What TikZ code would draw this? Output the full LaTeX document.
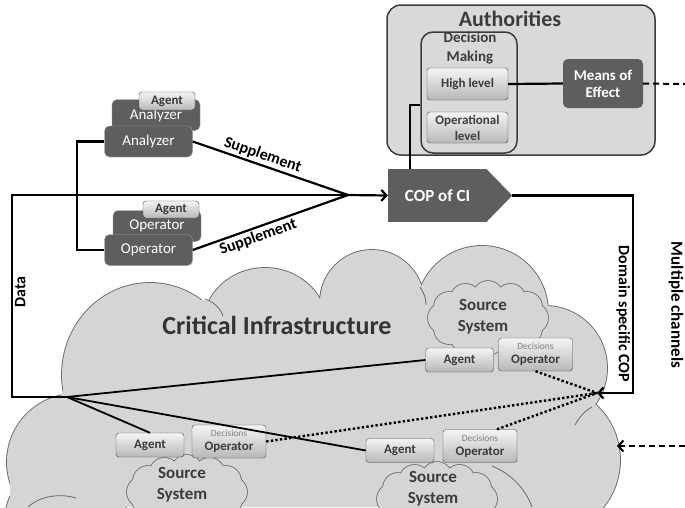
\documentclass[tikz,border=0pt]{standalone}
\usepackage{fontspec}
\setmainfont{Carlito}
\usetikzlibrary{arrows.meta}
\definecolor{boxgray}{RGB}{94,94,94}
\definecolor{panelgray}{RGB}{217,217,217}
\definecolor{cloudfill}{RGB}{213,213,213}
\definecolor{cloudline}{RGB}{105,105,105}
\definecolor{inkgray}{RGB}{60,60,60}
\tikzset{
	panel/.style    = {draw=inkgray, fill=panelgray, rounded corners=14pt, line width=1.5pt},
	stackbox/.style = {draw=gray!75, fill=boxgray, rounded corners=5pt, text=white, font=\fontsize{15}{17}\selectfont, minimum width=88pt, minimum height=31pt},
	darkbox/.style  = {fill=boxgray, rounded corners=5pt, text=white, font=\bfseries\fontsize{15}{17}\selectfont, align=center},
	button/.style   = {draw=gray!55!black, rounded corners=3pt, top color=white!96!black, bottom color=black!28, text=inkgray, font=\bfseries\fontsize{13}{15}\selectfont, align=center, inner sep=1pt},
	agentbtn/.style = {button, minimum width=68pt, minimum height=24pt},
	decbtn/.style   = {button, minimum width=74pt, minimum height=33pt, font=\bfseries\fontsize{13}{14}\selectfont},
	srctext/.style  = {text=inkgray, font=\bfseries\fontsize{17}{21}\selectfont, align=center},
	lbl/.style      = {font=\bfseries\fontsize{16}{18}\selectfont, inner sep=2pt},
	conn/.style     = {line width=2.2pt},
	fanline/.style  = {line width=1.8pt},
	dotline/.style  = {line width=2.4pt, dash pattern=on 2.4pt off 2.2pt},
	farline/.style  = {line width=2pt, dash pattern=on 6pt off 4pt},
	pics/srccloud/.style = {code = {
		\foreach \a in {0,30,...,330}
			\draw[cloudline, line width=1.6pt] ({45*cos(\a)},{22*sin(\a)}) circle[radius=15pt];
		\foreach \a in {0,30,...,330}
			\fill[cloudfill] ({45*cos(\a)},{22*sin(\a)}) circle[radius=15pt];
		\fill[cloudfill] (0,0) ellipse[x radius=48pt, y radius=26pt];
	}},
}

\begin{document}
\begin{tikzpicture}[x=1pt, y=-1pt, >={Straight Barb[length=5pt, width=11pt]}]
	\useasboundingbox (0,0) rectangle (685,507);
	\fill[white] (0,0) rectangle (685,507);

	% Critical infrastructure cloud with the source systems
	\begin{scope}
		\clip (0,0) rectangle (685,507);
		\foreach \cx/\cy/\rx/\ry in {75/462/68/68, 60/520/55/55, 150/375/88/92, 265/326/62/58, 372/302/52/52, 482/312/66/66, 545/368/62/62, 545/460/75/75}
			\draw[cloudline, line width=1.8pt] (\cx,\cy) ellipse[x radius=\rx pt, y radius=\ry pt];
		\foreach \cx/\cy/\rx/\ry in {75/462/68/68, 60/520/55/55, 150/375/88/92, 265/326/62/58, 372/302/52/52, 482/312/66/66, 545/368/62/62, 545/460/75/75}
			\fill[cloudfill] (\cx,\cy) ellipse[x radius=\rx pt, y radius=\ry pt];
		\fill[cloudfill] (80,340) -- (200,300) -- (320,305) -- (420,290) -- (545,300) -- (590,380)
			-- (600,507) -- (10,507) -- (10,470) -- (60,400) -- cycle;
		\draw[cloudline, line width=0.8pt] (205,299) .. controls (214,302) and (220,308) .. (223,316);
		\draw[cloudline, line width=0.8pt] (420,287) .. controls (424,293) and (426,298) .. (426,305);
		\draw[cloudline, line width=0.8pt] (575,425) .. controls (580,416) and (586,410) .. (592,407);
		\draw[cloudline, line width=0.8pt] (492,466) .. controls (512,474) and (526,490) .. (532,507);
		\draw[cloudline, line width=0.8pt] (28,507) .. controls (40,496) and (60,493) .. (76,498);
		\pic at (488,318) {srccloud};
		\pic at (187,492) {srccloud};
		\pic at (437,499) {srccloud};
	\end{scope}

	\node[text=black!80, font=\bfseries\fontsize{26}{28}\selectfont] (ci) at (277,325) {Critical Infrastructure};
	\node[srctext] (srcU) at (483,317) {Source\\System};
	\node[srctext] (srcL) at (182,485) {Source\\System};
	\node[srctext] (srcR) at (433,489) {Source\\System};

	% Authorities
	\node[panel, minimum width=268pt, minimum height=150pt] (auth) at (521,80) {};
	\node[text=inkgray, font=\bfseries\fontsize{22}{24}\selectfont] (authtitle) at (510,19) {Authorities};
	\node[panel, rounded corners=12pt, minimum width=96pt, minimum height=121pt] (dm) at (469,92.5) {};
	\node[text=inkgray, font=\bfseries\fontsize{15}{19}\selectfont, align=center] (dmtitle) at (470,48) {Decision\\Making};
	\node[button, minimum width=81pt, minimum height=32pt] (hl) at (467.5,84) {High level};
	\node[button, minimum width=81pt, minimum height=31pt, font=\bfseries\fontsize{13}{16}\selectfont] (ol) at (467.5,127.5) {Operational\\level};
	\node[darkbox, minimum width=80pt, minimum height=49pt] (moe) at (603,83.5) {Means of\\Effect};

	% COP of CI
	\node[darkbox, rounded corners=0pt, minimum width=99pt, minimum height=53pt, font=\bfseries\fontsize{17}{19}\selectfont] (cop) at (437.5,195.5) {COP of CI};
	\fill[boxgray] ([xshift=-1pt]cop.north east) -- ([xshift=25pt]cop.east) -- ([xshift=-1pt]cop.south east) -- cycle;

	% Analyzer and operator stacks
	\node[stackbox] (anaB) at (156,115) {Analyzer};
	\node[agentbtn, minimum width=56pt, minimum height=18pt] (anaAg) at (167,101) {Agent};
	\node[stackbox] (anaF) at (148.5,141.5) {Analyzer};
	\node[stackbox] (opB) at (157,226) {Operator};
	\node[agentbtn, minimum width=56pt, minimum height=17pt] (opAg) at (171,209.5) {Agent};
	\node[stackbox] (opF) at (148.5,250) {Operator};

	% Agents and operators of the source systems
	\draw
		node[agentbtn] (agU) at (459.5,360) {Agent}
		node[decbtn, right of = agU, node distance = 76pt, yshift=5.5pt] (opU) {{\mdseries\color{gray}\fontsize{9.5}{10}\selectfont Decisions}\\Operator}
		node[agentbtn] (agL) at (150,445) {Agent}
		node[decbtn, right of = agL, node distance = 79pt, yshift=3.5pt] (opL) {{\mdseries\color{gray}\fontsize{9.5}{10}\selectfont Decisions}\\Operator}
		node[agentbtn] (agR) at (400,450.5) {Agent}
		node[decbtn, right of = agR, node distance = 80pt, yshift=4.5pt] (opR) {{\mdseries\color{gray}\fontsize{9.5}{10}\selectfont Decisions}\\Operator};

	\coordinate (fan) at (67,397);
	\coordinate (merge) at (348,195);
	\coordinate (domin) at (597,393);
	\coordinate (meout) at (685,84);
	\coordinate (chanin) at (685,446);
	\coordinate (cloudR) at (617,446);

	% Connect everything together
	\draw[conn] (fan) -- ++(-55,0) |- node[lbl, pos=0.26, rotate=90, anchor=north] {Data} (merge);
	\draw[conn,->] (merge) -- (cop.west);
	\draw[conn] (anaF.west) -- ++(-27,0) |- (opF.west);
	\draw[conn] (anaF.east) -- node[lbl, pos=0.43, above, sloped] {Supplement} (merge);
	\draw[conn] (opF.east) -- node[lbl, pos=0.4, below, sloped] {Supplement} (merge);
	\draw[conn] ([xshift=-27.5pt]cop.north) |- ([yshift=-12.5pt]dm.west);
	\draw[conn] (hl.east) -- (moe.west);
	\draw[farline] (moe.east) -- (meout);
	\draw[conn,->] ([xshift=25pt]cop.east) -- ++(121,0) |- node[lbl, pos=0.3, rotate=-90, anchor=north] {Domain specific COP} (domin);
	\draw[fanline] (fan) -- (agU.west);
	\draw[fanline] (fan) -- (agL.north);
	\draw[fanline] (fan) -- (agR.west);
	\draw[dotline] (opU.south) -- (domin);
	\draw[dotline] (opL.east) -- (domin);
	\draw[dotline] ([xshift=17pt]opR.north) -- (domin);
	\draw[farline,->] (chanin) -- (cloudR);
	\node[lbl, rotate=-90, font=\bfseries\fontsize{17}{19}\selectfont] (mc) at (676,305) {Multiple channels};
\end{tikzpicture}
\end{document}
